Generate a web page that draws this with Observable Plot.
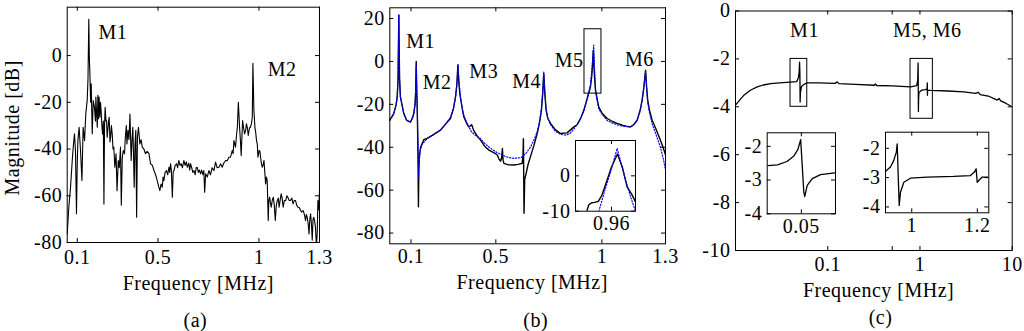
<!DOCTYPE html>
<html><head><meta charset="utf-8">
<script src="https://cdn.jsdelivr.net/npm/d3@7"></script>
<script src="https://cdn.jsdelivr.net/npm/@observablehq/plot@0.6"></script>
<style>
body{margin:0;background:#fff;}
#fig{position:relative;width:1024px;height:331px;overflow:hidden;background:#fff;}
#fig > div{position:absolute;}
svg{overflow:visible;}
</style></head><body><div id="fig"></div>
<script>
// ---------- Panel (a): measured spectrum [frequency MHz, magnitude dB] ----------
const A_SPECTRUM = [
[0.05,-76.3],[0.058,-64.9],[0.0665,-56.3],[0.075,-44.9],[0.08,-39.2],[0.086,-33.5],[0.091,-40.6],[0.096,-67.7],[0.1,-45],[0.103,-36.4],
[0.109,-30.7],[0.116,-40.6],[0.123,-53.5],[0.129,-30.7],[0.136,-36.4],[0.142,-25],[0.149,-19.3],[0.153,-10],[0.157,15.5],[0.16,-2],
[0.162,-6.4],[0.166,-20],[0.169,-12.1],[0.174,-33.5],[0.179,-19.3],[0.185,-22.1],[0.19,-28],[0.192,-17.8],[0.199,-30.7],[0.202,-17],
[0.205,-27],[0.208,-17.8],[0.212,-26.4],[0.215,-20],[0.218,-23.5],[0.222,-30],[0.225,-33.5],[0.229,-28],[0.232,-63.5],[0.235,-30],
[0.238,-22.1],[0.242,-28],[0.245,-27.8],[0.248,-35],[0.251,-32.1],[0.255,-28],[0.258,-26.4],[0.262,-37],[0.265,-34.9],[0.269,-30],
[0.273,-33.5],[0.277,-40],[0.281,-39.2],[0.286,-47.8],[0.292,-42],[0.297,-57.8],[0.303,-44.9],[0.308,-48],[0.314,-39.2],[0.318,-64],
[0.323,-43.5],[0.328,-40.6],[0.334,-42],[0.338,-34.9],[0.343,-30],[0.346,-37.8],[0.351,-32],[0.356,-36],[0.361,-25],[0.364,-35],
[0.367,-44.9],[0.371,-36.4],[0.375,-30.7],[0.378,-40],[0.382,-56.3],[0.386,-37.8],[0.39,-32],[0.394,-69.2],[0.398,-35],[0.403,-30.7],
[0.41,-37.8],[0.416,-36],[0.422,-39.2],[0.43,-40],[0.438,-42],[0.446,-41],[0.455,-42],[0.463,-46.3],[0.472,-47],[0.48,-49.2],
[0.488,-51],[0.496,-53.5],[0.503,-56],[0.509,-57.8],[0.515,-55],[0.521,-56.3],[0.525,-52],[0.529,-53.5],[0.535,-50],[0.542,-49.2],
[0.548,-51],[0.554,-47.8],[0.558,-50],[0.562,-46.3],[0.566,-49],[0.571,-60.6],[0.575,-50],[0.579,-49.2],[0.585,-47],[0.592,-46.3],
[0.597,-48],[0.603,-44.9],[0.609,-47],[0.615,-46.3],[0.621,-48],[0.628,-44.9],[0.634,-47],[0.64,-45.5],[0.645,-47.8],[0.652,-46],
[0.657,-49],[0.661,-46.3],[0.667,-48],[0.672,-50],[0.678,-49.2],[0.684,-51],[0.689,-48],[0.694,-47.8],[0.7,-50],[0.705,-49],
[0.711,-50.6],[0.716,-49],[0.722,-51],[0.727,-49.2],[0.731,-58.5],[0.736,-50.6],[0.744,-52],[0.752,-49.2],[0.76,-51],[0.768,-48],
[0.777,-49.2],[0.785,-45.6],[0.793,-48],[0.802,-47.8],[0.81,-46.3],[0.818,-47.8],[0.826,-46],[0.835,-44.9],[0.843,-45],[0.851,-43.5],
[0.859,-43.5],[0.868,-40.6],[0.872,-42],[0.876,-36.4],[0.884,-39.2],[0.889,-34],[0.893,-30.7],[0.898,-20],[0.904,-30.7],[0.908,-36],
[0.912,-42.8],[0.919,-27.8],[0.924,-31],[0.929,-33.5],[0.934,-32],[0.938,-29.2],[0.943,-31],[0.947,-34.2],[0.953,-31],[0.958,-30.7],
[0.963,-29],[0.967,-26.4],[0.97,-3.3],[0.975,-23.5],[0.98,-30.7],[0.984,-33],[0.988,-36.4],[0.992,-38],[0.995,-43.5],[1.001,-40.6],
[1.005,-41],[1.008,-43.5],[1.012,-46],[1.016,-47.8],[1.02,-47],[1.025,-44.9],[1.029,-50],[1.033,-54.9],[1.037,-52],[1.041,-53.5],
[1.046,-70.6],[1.049,-62],[1.053,-60.6],[1.057,-63],[1.061,-64.9],[1.066,-62],[1.071,-60.6],[1.076,-64],[1.081,-70.6],[1.086,-64],
[1.091,-62],[1.096,-61],[1.1,-64.9],[1.105,-62],[1.11,-59.2],[1.115,-61],[1.12,-64.9],[1.126,-62],[1.133,-62],[1.138,-60],
[1.143,-60.6],[1.15,-62],[1.156,-62],[1.163,-61],[1.169,-63.5],[1.175,-62],[1.181,-62],[1.187,-64],[1.193,-64.9],[1.2,-65],
[1.206,-66.3],[1.212,-67],[1.219,-66.3],[1.225,-68],[1.231,-70.6],[1.235,-68],[1.239,-69.2],[1.244,-72],[1.248,-76.3],[1.252,-70],
[1.256,-67.7],[1.26,-72],[1.264,-79],[1.268,-70],[1.272,-69.2],[1.276,-71],[1.28,-73.4],[1.285,-82],[1.289,-75],[1.292,-62],
[1.296,-66],[1.3,-57.8]
];
const A_LABELS = [["M1",0.276,10],["M2",1.115,-6.1]];

// ---------- Panel (b): measured (black) and model (blue dotted) ----------
const B_MEASURED = [
[0,-27.4],[0.019,-24.3],[0.03,-20],[0.035,-16.5],[0.039,-8],[0.0425,21.5],[0.046,-8],[0.05,-16.5],[0.066,-24.3],[0.08,-27.5],
[0.097,-28.3],[0.108,-26],[0.113,-24.3],[0.119,-20],[0.122,-14],[0.1245,0],[0.127,-14],[0.129,-20],[0.131,-32],[0.133,-45],
[0.135,-67.7],[0.137,-50],[0.14,-44],[0.145,-40],[0.153,-38.2],[0.16,-36.5],[0.176,-35.9],[0.2,-34.5],[0.239,-32],[0.265,-29],
[0.286,-26.6],[0.3,-22],[0.31,-16.5],[0.316,-11],[0.321,-1.75],[0.325,-9],[0.33,-14.9],[0.34,-21],[0.349,-25.8],[0.362,-28.8],
[0.372,-30.5],[0.38,-30],[0.386,-29.5],[0.395,-32],[0.41,-34.5],[0.428,-36.7],[0.447,-39.5],[0.467,-41.3],[0.49,-42.5],[0.506,-43.5],
[0.515,-45.5],[0.522,-46.5],[0.527,-45],[0.531,-40.6],[0.534,-46],[0.538,-47.5],[0.56,-48.2],[0.585,-48.3],[0.605,-48],[0.624,-47.5],
[0.628,-44],[0.63,-36],[0.633,-70.8],[0.636,-55],[0.643,-52.2],[0.652,-48],[0.663,-44.5],[0.68,-39],[0.695,-33.6],[0.706,-28.5],
[0.715,-22.7],[0.721,-15],[0.726,-5.6],[0.731,-15],[0.737,-22.7],[0.745,-26.5],[0.758,-28.9],[0.78,-31.8],[0.805,-33.6],[0.836,-33.3],
[0.868,-30.5],[0.883,-29.5],[0.9,-26.5],[0.915,-22.7],[0.93,-17.5],[0.946,-11.9],[0.952,-7],[0.955,-3],[0.9595,5.2],[0.963,-3],
[0.966,-8],[0.97,-13.4],[0.985,-21.2],[1.0,-24],[1.025,-26.6],[1.05,-28],[1.072,-28.9],[1.1,-29.8],[1.12,-30.3],[1.135,-30.5],
[1.15,-29.5],[1.166,-27.4],[1.18,-23],[1.19,-18],[1.198,-12],[1.206,-4.1],[1.211,-12],[1.216,-18],[1.225,-23],[1.237,-27.4],
[1.255,-31.5],[1.276,-36.7],[1.29,-40.5],[1.3,-43.5]
];
const B_MODEL = [
[0,-27.4],[0.019,-24.3],[0.03,-20],[0.035,-16.5],[0.039,-8],[0.0425,22],[0.046,-8],[0.05,-16.5],[0.066,-24.3],[0.08,-27.5],
[0.097,-28.3],[0.108,-26],[0.113,-24.3],[0.119,-20],[0.122,-14],[0.1248,-2],[0.128,-16],[0.131,-28],[0.134,-42],[0.136,-54],
[0.138,-48],[0.142,-42],[0.153,-38.5],[0.176,-36],[0.2,-34.5],[0.239,-32],[0.265,-29],[0.286,-26],[0.3,-22],[0.31,-16.5],
[0.316,-11],[0.322,-1.5],[0.326,-9],[0.333,-16.5],[0.345,-24],[0.365,-29],[0.385,-32.8],[0.405,-34.5],[0.428,-36],[0.45,-38.5],
[0.475,-40.5],[0.506,-42.5],[0.55,-44.5],[0.585,-45.2],[0.62,-44.8],[0.645,-42.5],[0.663,-40],[0.68,-36.5],[0.695,-32.8],[0.706,-28],
[0.715,-22],[0.721,-14],[0.726,-5],[0.731,-14],[0.737,-22],[0.745,-26.5],[0.758,-29.5],[0.78,-32.5],[0.805,-34],[0.83,-34.4],
[0.85,-33.5],[0.868,-31.5],[0.89,-28.5],[0.915,-23],[0.93,-18],[0.946,-11],[0.953,-4],[0.9615,7.6],[0.966,-4],[0.97,-14],
[0.985,-22],[1.0,-24.5],[1.025,-27.5],[1.05,-28.8],[1.072,-29.5],[1.1,-30.2],[1.135,-30.5],[1.15,-29.6],[1.166,-27.5],[1.18,-23],
[1.19,-18],[1.198,-12],[1.206,-4.5],[1.211,-12],[1.216,-19],[1.225,-24],[1.237,-29],[1.255,-34],[1.276,-40],[1.29,-45.5],
[1.3,-50.6]
];
const B_LABELS = [["M1",0.145,9.1],["M2",0.2235,-10],["M3",0.443,-4.9],["M4",0.645,-9.5],["M5",0.846,0.25],["M6",1.177,0.9]];
const B_BOX = [[0.918,0.998,-15,15]];
const B_INSET_MEASURED = [[0.939,-10.5],[0.941,-8.2],[0.9435,-7.6],[0.946,-7.5],[0.949,-7.2],[0.952,-5.5],[0.956,-1.5],[0.96,2.5],[0.965,6.2],[0.969,2.5],[0.973,-3.1],[0.977,-5.3],[0.98,-7.4]];
const B_INSET_MODEL = [[0.9495,-10],[0.952,-7],[0.955,-3.5],[0.96,2],[0.9647,7.8],[0.968,3.5],[0.972,-1.5],[0.976,-6],[0.98,-10]];

// ---------- Panel (c): wide-band response (log frequency) ----------
const C_RESPONSE = [
[0.01,-3.93],[0.0112,-3.7],[0.0123,-3.52],[0.0145,-3.31],[0.0172,-3.17],[0.02,-3.09],[0.024,-3.03],[0.03,-3.0],[0.0395,-2.97],[0.046,-2.95],
[0.048,-2.8],[0.049,-2.55],[0.0495,-2.14],[0.0499,-2.6],[0.0502,-3.8],[0.0506,-3.4],[0.052,-3.15],[0.056,-3.05],[0.06,-3.0],[0.08,-3.0],
[0.12,-3.02],[0.127,-2.96],[0.132,-3.03],[0.2,-3.06],[0.32,-3.1],[0.33,-3.05],[0.34,-3.11],[0.5,-3.13],[0.79,-3.17],[0.92,-3.12],
[0.945,-2.9],[0.955,-2.17],[0.958,-3.0],[0.962,-4.2],[0.966,-3.7],[0.975,-3.4],[1.05,-3.3],[1.15,-3.28],[1.195,-3.25],[1.2,-3.0],
[1.205,-3.52],[1.21,-3.3],[1.3,-3.31],[2,-3.34],[3,-3.38],[4,-3.44],[4.3,-3.4],[4.5,-3.49],[5.5,-3.55],[6.9,-3.72],
[7.2,-3.65],[7.5,-3.75],[8.5,-3.85],[10,-4.0]
];
const C_LABELS = [["M1",0.056,-0.82],["M5, M6",1.2,-0.82]];
const C_BOXES = [[0.0395,0.06,-4,-2],[0.79,1.38,-4.5,-2]];
const C_INSET1 = [[0.0451,-2.57],[0.0465,-2.55],[0.0479,-2.45],[0.0489,-2.29],[0.0495,-2.09],[0.0499,-1.8],[0.0501,-2.47],[0.05036,-3.36],[0.0505,-3.49],[0.05086,-3.16],[0.0516,-2.96],[0.0528,-2.84],[0.0549,-2.79]];
const C_INSET2 = [[0.92,-2.78],[0.923,-2.76],[0.935,-2.64],[0.945,-2.42],[0.953,-2.13],[0.9557,-1.85],[0.9587,-2.93],[0.9618,-3.95],[0.9657,-3.5],[0.9758,-3.16],[0.9962,-3.02],[1.047,-2.98],[1.128,-2.96],[1.179,-2.93],[1.191,-2.81],[1.1965,-2.7],[1.1996,-3.16],[1.2045,-3.1],[1.2147,-2.98],[1.235,-2.98]];

// ---------- Axis ticks ----------
const A_XTICKS = [0.1,0.5,1,1.3], A_YTICKS = [-80,-60,-40,-20,0];
const B_XTICKS = [0.1,0.5,1,1.3], B_YTICKS = [-80,-60,-40,-20,0,20];
const C_XTICKS = [0.1,0.5,1,10], C_YTICKS = [-10,-8,-6,-4,-2,0];
const BI_XTICKS = [0.96], BI_YTICKS = [-10,0];
const CI1_XTICKS = [0.05], CI1_YTICKS = [-4,-3,-2];
const CI2_XTICKS = [1,1.2], CI2_YTICKS = [-4,-3,-2];

const FONT = "'Liberation Serif','Times New Roman',serif";
const FS = 20;

function panel(o) {
  const W = o.width - o.ml - o.mr, H = o.height - o.mt - o.mb;
  const marks = [];
  if (o.bg) marks.push(Plot.frame({fill: "white", stroke: null}));
  marks.push(...o.marks);
  const tl = 4;
  marks.push(Plot.tickX(o.xt, {x: d => d, insetTop: H - tl, stroke: "black"}));
  marks.push(Plot.tickX(o.xt, {x: d => d, insetBottom: H - tl, stroke: "black"}));
  marks.push(Plot.tickY(o.yt, {y: d => d, insetRight: W - tl, stroke: "black"}));
  marks.push(Plot.tickY(o.yt, {y: d => d, insetLeft: W - tl, stroke: "black"}));
  marks.push(Plot.axisX(o.xt, {tickSize: 0, tickPadding: o.xpad, tickFormat: d => String(d), label: null, fontSize: FS}));
  marks.push(Plot.axisY(o.yt, {tickSize: 0, tickPadding: 5, tickFormat: d => String(d), label: null, fontSize: FS}));
  marks.push(Plot.frame({stroke: "black", strokeWidth: 1}));
  const svg = Plot.plot({
    width: o.width, height: o.height,
    marginLeft: o.ml, marginRight: o.mr, marginTop: o.mt, marginBottom: o.mb,
    x: {type: o.xtype || "linear", domain: o.xd, label: null},
    y: {domain: o.yd, label: null},
    style: {fontFamily: FONT, fontSize: FS + "px", letterSpacing: "0.5px", background: "transparent", color: "black", overflow: "visible"},
    marks
  });
  const div = document.createElement("div");
  div.style.left = o.left + "px";
  div.style.top = o.top + "px";
  div.appendChild(svg);
  document.getElementById("fig").appendChild(div);
}

const labelMarks = (L) => Plot.text(L, {x: d => d[1], y: d => d[2], text: d => d[0], fontSize: FS, fontFamily: FONT});
const caption = (t, dx, dy) => Plot.text([t], {frameAnchor: "bottom", text: d => d, dx, dy, fontSize: FS, fontFamily: FONT, lineAnchor: "middle", textAnchor: "middle"});
const BLUE = {stroke: "#0000ff", strokeWidth: 1.2, strokeDasharray: "1.2,1.8", clip: true};

// Panel (a)
panel({
  left: 0, top: 0, width: 340, height: 331, ml: 66.7, mr: 21, mt: 6.7, mb: 89, xpad: 7,
  xd: [0.05, 1.3], yd: [-80, 20.7], xt: A_XTICKS, yt: A_YTICKS,
  marks: [
    Plot.line(A_SPECTRUM, {x: d => d[0], y: d => d[1], stroke: "black", strokeWidth: 1.1, clip: true}),
    labelMarks(A_LABELS),
    Plot.text(["Magnitude [dB]"], {frameAnchor: "left", text: d => d, rotate: -90, dx: -54.7, dy: 3, fontSize: FS, fontFamily: FONT, lineAnchor: "middle", textAnchor: "middle"}),
    caption("Frequency [MHz]", 5, 41),
    caption("(a)", 2, 78)
  ]
});

// Panel (b)
panel({
  left: 340, top: 0, width: 340, height: 331, ml: 49.3, mr: 15, mt: 7.3, mb: 87.7, xpad: 5,
  xd: [0, 1.3], yd: [-85, 25], xt: B_XTICKS, yt: B_YTICKS,
  marks: [
    Plot.line(B_MEASURED, {x: d => d[0], y: d => d[1], stroke: "black", strokeWidth: 1.4, clip: true}),
    Plot.line(B_MODEL, {x: d => d[0], y: d => d[1], ...BLUE}),
    Plot.rect(B_BOX, {x1: d => d[0], x2: d => d[1], y1: d => d[2], y2: d => d[3], fill: "none", stroke: "black"}),
    labelMarks(B_LABELS),
    caption("Frequency [MHz]", 4.5, 38.4),
    caption("(b)", 8, 76.7)
  ]
});

// Panel (b) inset
panel({
  left: 535, top: 130, width: 105, height: 115, ml: 40, mr: 5, mt: 10, mb: 34.3, xpad: 5, bg: true,
  xd: [0.93, 0.98], yd: [-10, 10], xt: BI_XTICKS, yt: BI_YTICKS,
  marks: [
    Plot.line(B_INSET_MEASURED, {x: d => d[0], y: d => d[1], stroke: "black", strokeWidth: 1.4, clip: true}),
    Plot.line(B_INSET_MODEL, {x: d => d[0], y: d => d[1], ...BLUE})
  ]
});

// Panel (c)
panel({
  left: 680, top: 0, width: 344, height: 331, ml: 55, mr: 12.3, mt: 10.5, mb: 81, xpad: 6,
  xtype: "log", xd: [0.01, 10], yd: [-10, 0], xt: C_XTICKS, yt: C_YTICKS,
  marks: [
    Plot.line(C_RESPONSE, {x: d => d[0], y: d => d[1], stroke: "black", strokeWidth: 1.3, clip: true}),
    Plot.rect(C_BOXES, {x1: d => d[0], x2: d => d[1], y1: d => d[2], y2: d => d[3], fill: "none", stroke: "black"}),
    labelMarks(C_LABELS),
    caption("Frequency [MHz]", 4.7, 40),
    caption("(c)", 6.7, 66.7)
  ]
});

// Panel (c) insets
panel({
  left: 730, top: 122, width: 110, height: 120, ml: 36.7, mr: 5, mt: 10.3, mb: 28.7, xpad: 5, bg: true,
  xd: [0.045, 0.055], yd: [-4, -1.6], xt: CI1_XTICKS, yt: CI1_YTICKS,
  marks: [Plot.line(C_INSET1, {x: d => d[0], y: d => d[1], stroke: "black", strokeWidth: 1.3, clip: true})]
});
panel({
  left: 850, top: 122, width: 145, height: 120, ml: 35, mr: 6.7, mt: 9.7, mb: 29.7, xpad: 5, bg: true,
  xd: [0.92, 1.235], yd: [-4.2, -1.45], xt: CI2_XTICKS, yt: CI2_YTICKS,
  marks: [Plot.line(C_INSET2, {x: d => d[0], y: d => d[1], stroke: "black", strokeWidth: 1.3, clip: true})]
});
</script></body></html>
